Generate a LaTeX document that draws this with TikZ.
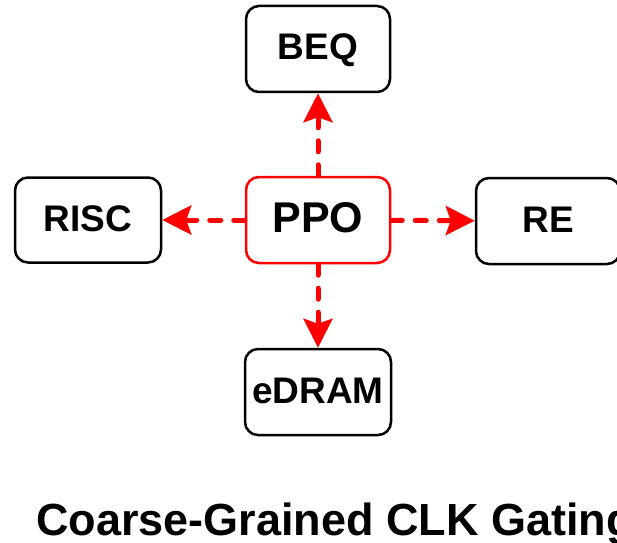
\documentclass[tikz,border=0pt]{standalone}
\usepackage{fontspec}
\setmainfont{Liberation Sans}
\usetikzlibrary{arrows.meta}
\begin{document}
\begin{tikzpicture}[x=1pt,y=1pt,
  box/.style={draw=black, line width=2.5pt, rounded corners=13pt, fill=white,
    minimum width=144pt, minimum height=86pt, inner sep=0pt,
    font=\bfseries\fontsize{37}{37}\selectfont, text height=27pt, text depth=5pt},
  hub/.style={box, draw=red, font=\bfseries\fontsize{43}{43}\selectfont,
    text height=31pt, text depth=6pt},
  arr/.style={draw=red, line width=5pt, line cap=round, dash pattern=on 11pt off 13pt,
    -{Stealth[length=29pt, width=29pt, inset=5pt, line cap=butt]}}
]
\useasboundingbox (0,0) rectangle (617,542);
\clip (0,0) rectangle (617,542);
\node[hub] (ppo) at (318,322) {PPO};
\node[box] (beq) at (318,493) {BEQ};
\node[box, minimum width=146pt, minimum height=85pt] (risc) at (88,322) {RISC};
\node[box] (re) at (548,321) {RE};
\node[box, minimum width=146pt] (edram) at (318,150) {eDRAM};
\draw[arr] (ppo) -- (beq);
\draw[arr] (ppo) -- (risc);
\draw[arr] (ppo) -- (re);
\draw[arr] (ppo) -- (edram);
\node[anchor=base west, inner sep=0pt, font=\bfseries\fontsize{45}{45}\selectfont] (title) at (36,7) {Coarse-Grained CLK Gating};
\end{tikzpicture}
\end{document}
